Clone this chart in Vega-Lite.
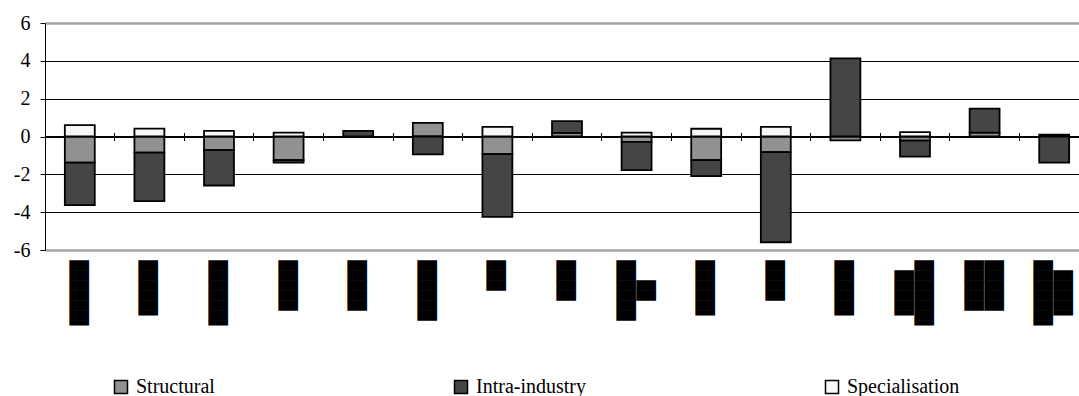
{
  "$schema": "https://vega.github.io/schema/vega-lite/v6.json",
  "width": 1034,
  "height": 227,
  "autosize": {"type": "none"},
  "padding": {"left": 45, "top": 23, "right": 0, "bottom": 146},
  "background": "white",
  "config": {"view": {"stroke": null}, "font": "Liberation Serif, Times New Roman, serif"},
  "data": {
    "values": [
      {"country": "▐██████", "component": "Structural", "value": -1.38},
      {"country": "▐██████", "component": "Intra-industry", "value": -2.25},
      {"country": "▐██████", "component": "Specialisation", "value": 0.6},
      {"country": "▐█████", "component": "Structural", "value": -0.85},
      {"country": "▐█████", "component": "Intra-industry", "value": -2.57},
      {"country": "▐█████", "component": "Specialisation", "value": 0.42},
      {"country": "▐██████\u200b", "component": "Structural", "value": -0.72},
      {"country": "▐██████\u200b", "component": "Intra-industry", "value": -1.87},
      {"country": "▐██████\u200b", "component": "Specialisation", "value": 0.3},
      {"country": "█████", "component": "Structural", "value": -1.25},
      {"country": "█████", "component": "Intra-industry", "value": -0.13},
      {"country": "█████", "component": "Specialisation", "value": 0.21},
      {"country": "█████\u200b", "component": "Intra-industry", "value": 0.3},
      {"country": "██████", "component": "Structural", "value": 0.72},
      {"country": "██████", "component": "Intra-industry", "value": -0.95},
      {"country": "███", "component": "Structural", "value": -0.93},
      {"country": "███", "component": "Intra-industry", "value": -3.32},
      {"country": "███", "component": "Specialisation", "value": 0.51},
      {"country": "████", "component": "Structural", "value": 0.19},
      {"country": "████", "component": "Intra-industry", "value": 0.62},
      {"country": "██████\n██\u00a0\u00a0\u200b", "component": "Structural", "value": -0.28},
      {"country": "██████\n██\u00a0\u00a0\u200b", "component": "Intra-industry", "value": -1.5},
      {"country": "██████\n██\u00a0\u00a0\u200b", "component": "Specialisation", "value": 0.2},
      {"country": "▐█████\u200b", "component": "Structural", "value": -1.25},
      {"country": "▐█████\u200b", "component": "Intra-industry", "value": -0.85},
      {"country": "▐█████\u200b", "component": "Specialisation", "value": 0.41},
      {"country": "████\u200b", "component": "Structural", "value": -0.83},
      {"country": "████\u200b", "component": "Intra-industry", "value": -4.76},
      {"country": "████\u200b", "component": "Specialisation", "value": 0.51},
      {"country": "▐█████\u200b\u200b", "component": "Structural", "value": -0.2},
      {"country": "▐█████\u200b\u200b", "component": "Intra-industry", "value": 4.13},
      {"country": "▐████\u00a0\u200b\n▐██████", "component": "Structural", "value": -0.22},
      {"country": "▐████\u00a0\u200b\n▐██████", "component": "Intra-industry", "value": -0.84},
      {"country": "▐████\u00a0\u200b\n▐██████", "component": "Specialisation", "value": 0.23},
      {"country": "█████\n█████", "component": "Structural", "value": 0.2},
      {"country": "█████\n█████", "component": "Intra-industry", "value": 1.27},
      {"country": "▐██████\n▐████\u00a0\u200b", "component": "Structural", "value": 0.1},
      {"country": "▐██████\n▐████\u00a0\u200b", "component": "Intra-industry", "value": -1.38}
    ]
  },
  "layer": [
    {
      "mark": {"type": "rule", "color": "black", "strokeWidth": 1},
      "encoding": {
        "y": {
          "datum": 0,
          "type": "quantitative",
          "scale": {"domain": [-6, 6], "nice": false},
          "axis": {
            "values": [-6, -4, -2, 0, 2, 4, 6],
            "labelExpr": "toString(datum.value)",
            "labelFont": "Liberation Serif, Times New Roman, serif",
            "labelFontSize": 20,
            "labelColor": "black",
            "labelPadding": 10,
            "labelOverlap": false,
            "labelFlush": false,
            "labelBound": false,
            "domain": true,
            "domainColor": "black",
            "domainWidth": 1,
            "ticks": true,
            "tickSize": 5,
            "tickColor": "black",
            "grid": true,
            "gridColor": {"condition": {"test": "abs(datum.value) >= 6", "value": "#a3a3a3"}, "value": "black"},
            "gridWidth": {"condition": {"test": "abs(datum.value) >= 6", "value": 2.5}, "value": 1},
            "gridOpacity": 1,
            "title": null
          }
        }
      }
    },
    {
      "mark": {"type": "bar", "width": {"band": 0.43}, "stroke": "black", "strokeWidth": 1.8},
      "encoding": {
        "x": {
          "field": "country",
          "type": "nominal",
          "sort": null,
          "scale": {"range": [0, 1044], "paddingInner": 0, "paddingOuter": 0},
          "axis": {
            "orient": "bottom",
            "offset": -117.5,
            "domain": false,
            "labels": false,
            "ticks": true,
            "tickSize": 8,
            "tickColor": "black",
            "tickWidth": 1,
            "bandPosition": 0,
            "grid": false,
            "title": null
          }
        },
        "y": {
          "field": "value",
          "type": "quantitative",
          "stack": "zero",
          "scale": {"domain": [-6, 6], "nice": false},
          "axis": {
            "values": [-6, -4, -2, 0, 2, 4, 6],
            "labelExpr": "toString(datum.value)",
            "labelFont": "Liberation Serif, Times New Roman, serif",
            "labelFontSize": 20,
            "labelColor": "black",
            "labelPadding": 10,
            "labelOverlap": false,
            "labelFlush": false,
            "labelBound": false,
            "domain": true,
            "domainColor": "black",
            "domainWidth": 1,
            "ticks": true,
            "tickSize": 5,
            "tickColor": "black",
            "grid": true,
            "gridColor": {"condition": {"test": "abs(datum.value) >= 6", "value": "#a3a3a3"}, "value": "black"},
            "gridWidth": {"condition": {"test": "abs(datum.value) >= 6", "value": 2.5}, "value": 1},
            "gridOpacity": 1,
            "title": null
          }
        },
        "color": {
          "field": "component",
          "type": "nominal",
          "scale": {
            "domain": ["Structural", "Intra-industry", "Specialisation"],
            "range": ["#919191", "#454545", "#f7f7f7"]
          },
          "legend": {
            "orient": "none",
            "legendX": 66,
            "legendY": 354,
            "direction": "horizontal",
            "title": null,
            "symbolType": "square",
            "symbolSize": 169,
            "symbolStrokeColor": "black",
            "symbolStrokeWidth": 1.5,
            "symbolOpacity": 1,
            "labelFont": "Liberation Serif, Times New Roman, serif",
            "labelFontSize": 20,
            "labelColor": "black",
            "labelOffset": 5,
            "columnPadding": 236,
            "padding": 0
          }
        },
        "order": {"field": "component", "sort": "descending"}
      }
    },
    {
      "mark": {"type": "text", "text": ""},
      "encoding": {
        "x": {
          "field": "country",
          "type": "nominal",
          "sort": null,
          "axis": {
            "orient": "bottom",
            "labelAngle": -90,
            "labelFont": "DejaVu Sans Mono",
            "labelFontSize": 16.61,
            "labelLineHeight": 20,
            "labelPadding": 10,
            "labelOffset": {"condition": {"test": "indexof(datum.value, '\\n') >= 0", "value": -10}, "value": 0},
            "labelColor": "black",
            "labelLimit": 0,
            "labelOverlap": false,
            "labelExpr": "split(datum.label, '\\n')",
            "domain": false,
            "ticks": false,
            "grid": false,
            "title": null
          }
        }
      }
    }
  ],
  "resolve": {"axis": {"x": "independent"}}
}
